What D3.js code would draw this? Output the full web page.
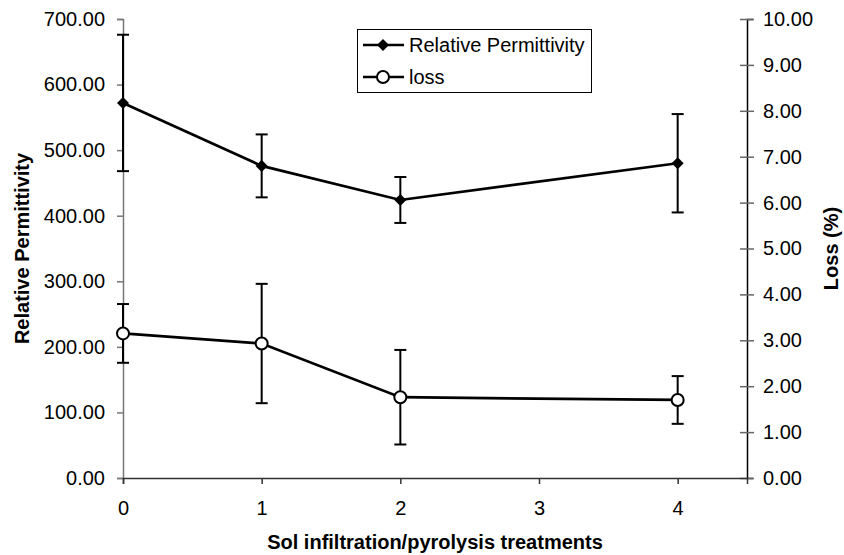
<!DOCTYPE html>
<html>
<head>
<meta charset="utf-8">
<script src="https://cdn.jsdelivr.net/npm/d3@7"></script>
<style>
  body { margin: 0; background: #fff; }
  text { font-family: "Liberation Sans", Arial, sans-serif; }
</style>
</head>
<body>
<div id="chart"></div>
<script>
// datos
var treatments = [0, 1, 2, 4]
var permittivity = [572, 476, 424, 480]
var permittivityErr = [104, 48, 35, 75]
var loss = [3.15, 2.93, 1.76, 1.70]
var lossErr = [0.64, 1.30, 1.03, 0.52]
var xTicks = [0, 1, 2, 3, 4]
var leftTicks = [0, 100, 200, 300, 400, 500, 600, 700]
var rightTicks = [0, 1, 2, 3, 4, 5, 6, 7, 8, 9, 10]
var legendItems = ["Relative Permittivity", "loss"]

// lienzo
var width = 844
var height = 555
var svg = d3.select("#chart")
            .append("svg")
            .attr("width", width)
            .attr("height", height)

var plotLeft = 123, plotRight = 747, plotTop = 19, plotBottom = 478

var x = d3.scaleLinear().domain([0, 4.5]).range([plotLeft, plotRight])
var yLeft = d3.scaleLinear().domain([0, 700]).range([plotBottom, plotTop])
var yRight = d3.scaleLinear().domain([0, 10]).range([plotBottom, plotTop])

// ejes
var axisLeft = svg.append("g")
                  .attr("transform", `translate(${plotLeft},0)`)
                  .call(d3.axisLeft(yLeft).tickValues(leftTicks).tickSize(6).tickPadding(12).tickFormat(d3.format(".2f")))
axisLeft.select(".domain").attr("stroke", "#777").attr("stroke-width", 1.5)
axisLeft.selectAll(".tick line").attr("stroke", "#777").attr("stroke-width", 1.5)

var axisRight = svg.append("g")
                   .attr("transform", `translate(${plotRight},0)`)
                   .call(d3.axisRight(yRight).tickValues(rightTicks).tickSize(6).tickPadding(10).tickFormat(d3.format(".2f")))
axisRight.select(".domain").attr("stroke", "#000").attr("stroke-width", 1.5)
axisRight.selectAll(".tick line").attr("x1", -7).attr("x2", 7).attr("stroke", "#666").attr("stroke-width", 1.5)

var axisBottom = svg.append("g")
                    .attr("transform", `translate(0,${plotBottom})`)
                    .call(d3.axisBottom(x).tickValues(xTicks).tickSize(6).tickPadding(17).tickFormat(d3.format("d")))
axisBottom.select(".domain").attr("stroke", "#333").attr("stroke-width", 1.5)
axisBottom.selectAll(".tick line").attr("stroke", "#333").attr("stroke-width", 1.5)

svg.selectAll(".tick text")
   .attr("font-size", 20)
   .attr("font-family", "Liberation Sans, Arial, sans-serif")
   .attr("fill", "#000")

// titulos
svg.append("text")
   .attr("transform", `translate(29,${(plotTop + plotBottom) / 2}) rotate(-90)`)
   .attr("text-anchor", "middle")
   .attr("font-size", 20)
   .attr("font-weight", "bold")
   .text("Relative Permittivity")

svg.append("text")
   .attr("transform", `translate(838,${(plotTop + plotBottom) / 2}) rotate(-90)`)
   .attr("text-anchor", "middle")
   .attr("font-size", 20)
   .attr("font-weight", "bold")
   .text("Loss (%)")

svg.append("text")
   .attr("x", (plotLeft + plotRight) / 2)
   .attr("y", 549)
   .attr("text-anchor", "middle")
   .attr("font-size", 20)
   .attr("font-weight", "bold")
   .text("Sol infiltration/pyrolysis treatments")

// barras de error
function drawErrors(vals, errs, scale) {
    var g = svg.append("g").attr("stroke", "#000").attr("stroke-width", 2)
    treatments.forEach((t, i) => {
        var hi = scale(vals[i] + errs[i])
        var lo = scale(vals[i] - errs[i])
        g.append("line").attr("x1", x(t)).attr("x2", x(t)).attr("y1", hi).attr("y2", lo)
        g.append("line").attr("x1", x(t) - 6).attr("x2", x(t) + 6).attr("y1", hi).attr("y2", hi)
        g.append("line").attr("x1", x(t) - 6).attr("x2", x(t) + 6).attr("y1", lo).attr("y2", lo)
    })
}
drawErrors(permittivity, permittivityErr, yLeft)
drawErrors(loss, lossErr, yRight)

// lineas
var linePerm = d3.line().x((d, i) => x(treatments[i])).y(d => yLeft(d))
var lineLoss = d3.line().x((d, i) => x(treatments[i])).y(d => yRight(d))

svg.append("path")
   .attr("d", linePerm(permittivity))
   .attr("fill", "none")
   .attr("stroke", "#000")
   .attr("stroke-width", 2.7)

svg.append("path")
   .attr("d", lineLoss(loss))
   .attr("fill", "none")
   .attr("stroke", "#000")
   .attr("stroke-width", 2.7)

// marcadores
var diamond = d3.symbol().type(d3.symbolDiamond2).size(92)

svg.append("g")
   .selectAll("path")
   .data(permittivity)
   .enter()
   .append("path")
   .attr("d", diamond)
   .attr("transform", (d, i) => `translate(${x(treatments[i])},${yLeft(d)})`)
   .attr("fill", "#000")

svg.append("g")
   .selectAll("circle")
   .data(loss)
   .enter()
   .append("circle")
   .attr("cx", (d, i) => x(treatments[i]))
   .attr("cy", d => yRight(d))
   .attr("r", 6)
   .attr("fill", "#fff")
   .attr("stroke", "#000")
   .attr("stroke-width", 2)

// leyenda
var legend = svg.append("g")
legend.append("rect")
      .attr("x", 357.5)
      .attr("y", 29.5)
      .attr("width", 234)
      .attr("height", 63)
      .attr("fill", "#fff")
      .attr("stroke", "#000")
      .attr("stroke-width", 1)

legendItems.forEach((name, i) => {
    var ly = 45 + i * 32
    legend.append("line")
          .attr("x1", 363).attr("x2", 404)
          .attr("y1", ly).attr("y2", ly)
          .attr("stroke", "#000")
          .attr("stroke-width", 2.7)
    if (i == 0) {
        legend.append("path")
              .attr("d", diamond)
              .attr("transform", `translate(383,${ly})`)
              .attr("fill", "#000")
    } else {
        legend.append("circle")
              .attr("cx", 383).attr("cy", ly).attr("r", 6)
              .attr("fill", "#fff")
              .attr("stroke", "#000")
              .attr("stroke-width", 2)
    }
    legend.append("text")
          .attr("x", 409)
          .attr("y", ly)
          .attr("dy", "0.35em")
          .attr("font-size", 20)
          .text(name)
})
</script>
</body>
</html>
